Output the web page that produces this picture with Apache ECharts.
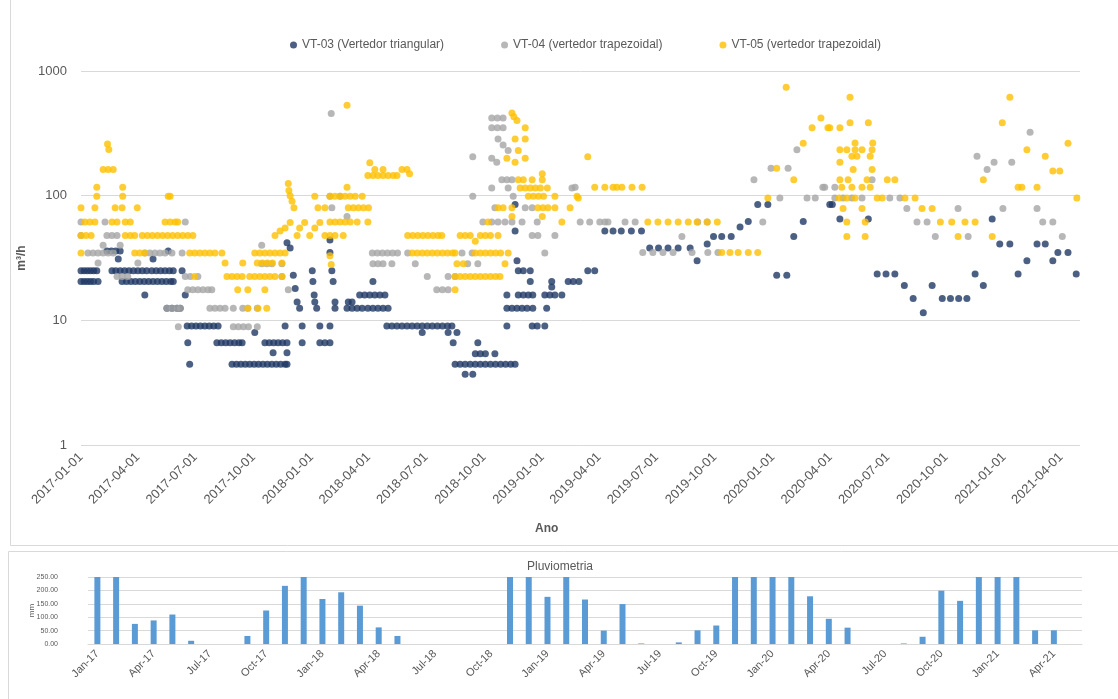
<!DOCTYPE html>
<html><head><meta charset="utf-8">
<script src="https://cdn.jsdelivr.net/npm/echarts@6/dist/echarts.min.js"></script>
<style>html,body{margin:0;padding:0;background:#fff}#c{width:1118px;height:699px}</style>
</head><body><div id="c"></div>
<script>
// ---------- data (x = days since 2017-01-01, y = m³/h) ----------
const seriesNames = ['VT-03 (Vertedor triangular)', 'VT-04 (vertedor trapezoidal)', 'VT-05 (vertedor trapezoidal)'];

const vt03 = [
[0,25],[5,25],[10,25],[15,25],[20,25],[25,25],
[0,20.5],[5,20.5],[10,20.5],[15,20.5],[20,20.5],[27,20.5],
[41,36],[48,36],[55,36],[62,36],
[49,25],[55,25],[62,25],[69,25],[76,25],[83,25],[90,25],[97,25],[104,25],
[59,31],
[65,20.5],[72,20.5],[79,20.5],[86,20.5],[93,20.5],[100,20.5],[107,20.5],[114,20.5],[121,20.5],[128,20.5],[135,20.5],[142,20.5],[146,20.5],
[101,16],
[112,25],[119,25],[126,25],[133,25],[140,25],[146,25],
[114,31],[138,36],
[136,12.5],[144,12.5],[152,12.5],[157,12.5],
[160,25],[165,16],
[168,9],[175,9],[182,9],[189,9],[196,9],[203,9],[210,9],[217,9],
[169,6.6],[172,4.45],
[215,6.6],[222,6.6],[229,6.6],[236,6.6],[243,6.6],[250,6.6],[255,6.6],
[239,4.45],[246,4.45],[253,4.45],[260,4.45],[267,4.45],[274,4.45],[281,4.45],[288,4.45],[295,4.45],[302,4.45],[309,4.45],[316,4.45],[323,4.45],[326,4.45],
[275,8],
[291,6.6],[298,6.6],[305,6.6],[312,6.6],[319,6.6],[326,6.6],
[304,5.5],[326,5.5],[323,9],
[326,42],[331,38],[336,23],[339,18],[342,14],[346,12.5],
[350,6.6],[350,9],
[366,25],[367,20.5],[369,16],[370,14],[373,12.5],
[378,6.6],[386,6.6],[394,6.6],[378,9],[394,9],
[394,44],[394,35],[397,25],[399,20.5],
[402,14],[423,14],[429,14],
[402,12.5],[421,12.5],[429,12.5],[437,12.5],[445,12.5],[454,12.5],[462,12.5],[470,12.5],[478,12.5],[486,12.5],
[441,16],[449,16],[457,16],[465,16],[473,16],[481,16],
[462,20.5],
[484,9],[492,9],[500,9],[508,9],[516,9],[524,9],[532,9],[540,9],[548,9],[556,9],[564,9],[572,9],[580,9],[587,9],
[540,8],[581,8],[595,8],
[589,6.6],[628,6.6],
[624,5.4],[632,5.4],[640,5.4],[655,5.4],
[592,4.45],[600,4.45],[608,4.45],[616,4.45],[624,4.45],[632,4.45],[640,4.45],[648,4.45],[656,4.45],[664,4.45],[672,4.45],[680,4.45],[687,4.45],
[608,3.7],[620,3.7],
[674,9],[674,12.5],[682,12.5],[690,12.5],[698,12.5],[706,12.5],[715,12.5],
[674,16],[692,16],[700,16],[708,16],[715,16],
[690,30],[692,25],[700,25],[711,25],[711,20.5],
[714,9],[722,9],[734,9],
[734,16],[742,16],[750,16],[761,16],
[737,12.5],[745,20.5],[745,18.5],
[771,20.5],[779,20.5],[788,20.5],
[687,52],[687,85],
[802,25],[813,25],
[829,52],[842,52],[855,52],[871,52],[887,52],
[900,38],[914,38],[929,38],[945,38],[964,38],
[975,30],[991,41],[1001,47],[1014,47],[1029,47],
[1043,56],[1056,62],[1071,85],[1087,85],
[1101,23],[1117,23],[1128,47],[1143,62],[1185,85],
[1189,85],[1201,65],[1246,65],
[1260,23.5],[1274,23.5],[1288,23.5],
[1303,19],[1317,15],[1333,11.5],[1347,19],
[1363,15],[1376,15],[1389,15],[1402,15],
[1415,23.5],[1428,19],[1442,65],[1454,41],[1470,41],[1483,23.5],[1497,30],[1513,41],[1526,41],[1538,30],[1546,35],[1562,35],[1575,23.5]
];

const vt04 = [
[0,61.5],[38,61.5],
[0,48],[41,48],[49,48],[57,48],
[35,40],[62,40],
[11,34.7],[19,34.7],[27,34.7],[35,34.7],[43,34.7],[51,34.7],
[27,28.8],[90,28.8],
[57,22.5],[65,22.5],[74,22.5],
[101,34.7],[109,34.7],[117,34.7],[125,34.7],[133,34.7],[144,34.7],[160,34.7],
[136,12.5],[144,12.5],[152,12.5],[157,12.5],
[154,8.9],[165,61.5],
[165,22.5],[173,22.5],[185,22.5],
[169,17.6],[177,17.6],[185,17.6],[193,17.6],[201,17.6],[207,17.6],
[204,12.5],[212,12.5],[220,12.5],[228,12.5],[241,12.5],
[241,8.9],[249,8.9],[257,8.9],[265,8.9],[279,8.9],
[256,12.5],[264,12.5],[279,12.5],
[286,40],[286,28.5],[294,28.5],[302,28.5],[318,28.5],
[318,22.5],[328,17.6],
[394,99],[396,456],[397,80],[410,99],[421,68],
[461,34.7],[469,34.7],[477,34.7],[485,34.7],[493,34.7],[501,34.7],[517,34.7],
[462,28.5],[470,28.5],[478,28.5],[492,28.5],[529,28.5],
[548,22.5],[581,22.5],[592,22.5],
[563,17.6],[572,17.6],[581,17.6],
[603,34.7],[619,34.7],[612,28.5],[628,28.5],
[620,205],[620,99],
[650,420],[659,420],[668,420],
[650,350],[659,350],[668,350],
[660,285],[668,255],[676,230],
[650,200],[658,185],
[666,134],[674,134],[682,134],
[650,115],[676,115],[684,99],[655,80],[703,80],[714,80],
[636,61.5],[650,61.5],[660,61.5],[671,61.5],[682,61.5],[698,61.5],[722,61.5],
[714,48],[723,48],[750,48],[734,34.7],[777,115],
[782,117],[790,61.5],[805,61.5],[821,61.5],[829,61.5],[834,61.5],[861,61.5],[877,61.5],
[889,35],[905,35],[921,35],[937,35],[967,35],[951,47],
[976,61.5],[991,61.5],[992,35],[1008,35],
[1065,134],[1079,61.5],[1092,166],[1106,96],[1119,166],[1133,234],[1149,96],[1162,96],[1174,117],
[1177,117],[1193,117],[1193,96],[1206,96],[1220,96],[1236,96],[1252,134],[1280,96],[1296,96],
[1307,79],[1323,61.5],[1339,61.5],[1352,47],[1388,79],[1404,47],[1418,207],[1434,162],[1445,185],[1459,79],[1473,185],[1502,322],[1513,79],[1522,61.5],[1538,61.5],[1553,47]
];

const vt05 = [
[42,260],[44,235],
[35,162],[43,162],[51,162],
[25,117],[66,117],
[25,99],[66,99],[138,99],[141,99],
[0,80],[22,80],[54,80],[65,80],[89,80],
[6,61.5],[14,61.5],[22,61.5],[49,61.5],[57,61.5],[70,61.5],[78,61.5],[133,61.5],[141,61.5],[149,61.5],[153,61.5],
[0,48],[8,48],[16,48],[70,48],[78,48],[85,48],[97,48],[105,48],[113,48],[121,48],[129,48],[137,48],[145,48],[153,48],[161,48],[169,48],[177,48],
[0,34.7],[85,34.7],[93,34.7],[101,34.7],[172,34.7],[180,34.7],[188,34.7],[196,34.7],[204,34.7],[212,34.7],[223,34.7],
[180,22.5],[228,28.8],[256,28.8],
[231,22.5],[239,22.5],[247,22.5],[255,22.5],[267,22.5],
[248,17.6],[264,17.6],[291,17.6],
[264,12.5],[280,12.5],[294,12.5],
[275,34.7],[283,34.7],[291,34.7],[299,34.7],[307,34.7],[315,34.7],[323,34.7],
[279,28.8],[287,28.8],[295,28.8],[303,28.8],[318,28.8],
[275,22.5],[283,22.5],[291,22.5],[299,22.5],[307,22.5],[318,22.5],
[328,125],[329,110],[331,100],[334,90],[337,80],
[307,48],[315,52],[323,55],[331,61],[342,48],[346,55],[354,61],[362,48],[370,55],[378,61],[386,48],
[370,99],[375,80],[386,80],[394,99],
[394,33],[396,28],
[421,531],[457,184],
[454,145],[462,145],[470,145],[478,145],[486,145],[494,145],[500,145],
[465,162],[478,162],[508,162],[516,162],[520,150],
[421,117],
[402,99],[410,99],[418,99],[426,99],[434,99],[445,99],
[423,80],[431,80],[439,80],[447,80],[455,80],
[394,61.5],[402,61.5],[410,61.5],[418,61.5],[426,61.5],[437,61.5],[454,61.5],
[394,48],[402,48],[415,48],
[517,48],[525,48],[533,48],[541,48],[549,48],[557,48],[565,48],[571,48],
[600,48],[608,48],[616,48],[624,43],[632,48],[640,48],[648,48],[660,48],
[524,34.7],[532,34.7],[540,34.7],[548,34.7],[556,34.7],[564,34.7],[572,34.7],[580,34.7],[588,34.7],[592,34.7],
[624,34.7],[632,34.7],[640,34.7],[648,34.7],[656,34.7],[664,34.7],[676,34.7],
[595,28.5],[605,28.5],[671,28.5],
[592,22.5],[600,22.5],[608,22.5],[616,22.5],[624,22.5],[632,22.5],[640,22.5],[648,22.5],[656,22.5],[663,22.5],
[592,17.6],
[682,460],[685,430],[690,400],[703,350],[687,285],[703,285],[692,230],[674,200],[687,185],[703,200],
[692,134],[700,134],[714,134],[730,150],[730,134],
[695,115],[703,115],[711,115],[719,115],[727,115],[738,115],
[708,99],[716,99],[724,99],[732,99],[750,99],[785,99],
[660,80],[668,80],[682,80],[723,80],[731,80],[739,80],[750,80],[774,80],
[682,68],[730,68],[761,61.5],[644,61.5],
[802,205],
[813,117],[829,117],[842,117],[848,117],[856,117],[872,117],[888,117],
[787,96],
[897,61.5],[913,61.5],[929,61.5],[945,61.5],[961,61.5],[975,61.5],[991,61.5],[1007,61.5],
[1014,35],[1027,35],[1040,35],[1056,35],[1071,35],
[1087,96],[1101,166],[1116,741],[1128,134],[1143,263],[1157,350],[1171,420],[1182,350],
[1185,350],[1201,350],
[1217,616],[1217,385],[1246,385],
[1225,265],[1253,265],
[1201,234],[1212,234],[1225,234],[1236,234],[1252,234],
[1220,207],[1228,207],[1249,207],
[1201,185],[1222,162],[1252,162],
[1201,134],[1214,134],[1244,134],[1276,134],[1288,134],
[1204,117],[1220,117],[1236,117],[1249,117],
[1200,96],[1212,96],[1225,96],[1260,96],[1268,96],[1304,96],[1320,96],
[1206,79],[1236,79],[1331,79],[1347,79],
[1212,61.5],[1241,61.5],[1360,61.5],[1378,61.5],[1399,61.5],[1415,61.5],
[1212,47],[1241,47],[1388,47],[1442,47],
[1428,134],[1458,385],[1470,616],[1483,117],[1489,117],[1497,234],[1513,117],[1526,207],[1538,158],[1549,158],[1562,263],[1576,96]
];

const dateTicks = ['2017-01-01','2017-04-01','2017-07-01','2017-10-01','2018-01-01','2018-04-01','2018-07-01','2018-10-01',
  '2019-01-01','2019-04-01','2019-07-01','2019-10-01','2020-01-01','2020-04-01','2020-07-01','2020-10-01','2021-01-01','2021-04-01'];

const months = ['Jan-17','Feb-17','Mar-17','Apr-17','May-17','Jun-17','Jul-17','Aug-17','Sep-17','Oct-17','Nov-17','Dec-17',
  'Jan-18','Feb-18','Mar-18','Apr-18','May-18','Jun-18','Jul-18','Aug-18','Sep-18','Oct-18','Nov-18','Dec-18',
  'Jan-19','Feb-19','Mar-19','Apr-19','May-19','Jun-19','Jul-19','Aug-19','Sep-19','Oct-19','Nov-19','Dec-19',
  'Jan-20','Feb-20','Mar-20','Apr-20','May-20','Jun-20','Jul-20','Aug-20','Sep-20','Oct-20','Nov-20','Dec-20',
  'Jan-21','Feb-21','Mar-21','Apr-21','May-21'];
const rain = [250,250,75,88,110,12,0,0,30,125,217,250,
  168,193,143,62,30,0,0,0,0,0,250,250,
  176,250,166,50,149,2,0,6,51,69,250,250,
  250,250,178,94,61,0,0,2,27,199,161,250,
  250,250,51,51,null];

// ---------- build ----------
const START = Date.UTC(2017, 0, 1);
const END = Date.UTC(2021, 4, 1);
const DAY = 86400000;
const toPts = arr => arr.map(p => [START + p[0] * DAY, p[1]]);
const pad = n => (n < 10 ? '0' : '') + n;
const fmtDate = v => { const d = new Date(v); return d.getUTCFullYear() + '-' + pad(d.getUTCMonth() + 1) + '-' + pad(d.getUTCDate()); };
const FONT = 'Liberation Sans';
const TXT = '#595959';
const GRID = '#d9d9d9';
const colors = ['#1F3864', '#A5A5A5', '#FFC000'];

const chart = echarts.init(document.getElementById('c'), null, {renderer: 'canvas'});
chart.setOption({
  animation: false,
  backgroundColor: '#fff',
  textStyle: {fontFamily: FONT},
  graphic: [
    {type: 'rect', shape: {x: 10.5, y: -1, width: 1120, height: 546.5}, style: {fill: 'none', stroke: GRID, lineWidth: 1}, silent: true, z: -10},
    {type: 'rect', shape: {x: 8.5, y: 551.5, width: 1120, height: 160}, style: {fill: 'none', stroke: GRID, lineWidth: 1}, silent: true, z: -10},
    {type: 'text', left: 535, top: 523, style: {text: 'Ano', font: 'bold 12px ' + FONT, fill: TXT}},
    {type: 'text', left: 527, top: 561, style: {text: 'Pluviometria', font: '12px ' + FONT, fill: TXT}}
  ],
  legend: {
    data: seriesNames, left: 285, top: 34, icon: 'circle', itemWidth: 7, itemHeight: 7, itemGap: 57,
    textStyle: {fontSize: 12, color: TXT, fontFamily: FONT}
  },
  grid: [
    {left: 81, right: 38, top: 71, height: 374},
    {left: 88, right: 36, top: 577, height: 67}
  ],
  xAxis: [
    {
      type: 'value', gridIndex: 0, min: START, max: END,
      axisLine: {show: false}, axisTick: {show: false}, splitLine: {show: false},
      axisLabel: {
        customValues: dateTicks.map(s => Date.parse(s)), formatter: v => fmtDate(v),
        rotate: 45, margin: 10, fontSize: 13, color: TXT, fontFamily: FONT, hideOverlap: false
      }
    },
    {
      type: 'category', gridIndex: 1, data: months, boundaryGap: true,
      axisLine: {lineStyle: {color: GRID}}, axisTick: {show: false},
      axisLabel: {interval: 2, rotate: 45, margin: 8, fontSize: 11, color: TXT, fontFamily: FONT}
    }
  ],
  yAxis: [
    {
      type: 'log', logBase: 10, gridIndex: 0, min: 1, max: 1000,
      name: 'm³/h', nameLocation: 'middle', nameRotate: 90, nameGap: 53, nameMoveOverlap: false,
      nameTextStyle: {fontSize: 12, fontWeight: 'bold', color: TXT, fontFamily: FONT},
      axisLine: {show: false}, axisTick: {show: false},
      axisLabel: {formatter: v => String(Math.round(v)), fontSize: 13, color: TXT, margin: 14, fontFamily: FONT},
      splitLine: {lineStyle: {color: GRID}}
    },
    {
      type: 'value', gridIndex: 1, min: 0, max: 250, interval: 50,
      name: 'mm', nameLocation: 'middle', nameRotate: 90, nameGap: 52, nameMoveOverlap: false,
      nameTextStyle: {fontSize: 8, color: TXT, fontFamily: FONT},
      axisLine: {show: false}, axisTick: {show: false},
      axisLabel: {formatter: v => v.toFixed(2), fontSize: 7, color: TXT, margin: 30, fontFamily: FONT},
      splitLine: {lineStyle: {color: GRID}}
    }
  ],
  series: [
    {name: seriesNames[0], type: 'scatter', xAxisIndex: 0, yAxisIndex: 0, data: toPts(vt03), symbolSize: 7, itemStyle: {color: colors[0]}},
    {name: seriesNames[1], type: 'scatter', xAxisIndex: 0, yAxisIndex: 0, data: toPts(vt04), symbolSize: 7, itemStyle: {color: colors[1]}},
    {name: seriesNames[2], type: 'scatter', xAxisIndex: 0, yAxisIndex: 0, data: toPts(vt05), symbolSize: 7, itemStyle: {color: colors[2]}},
    {name: 'Pluviometria', type: 'bar', xAxisIndex: 1, yAxisIndex: 1, data: rain, barWidth: 6, itemStyle: {color: '#5B9BD5'}}
  ]
});
</script>
</body></html>
